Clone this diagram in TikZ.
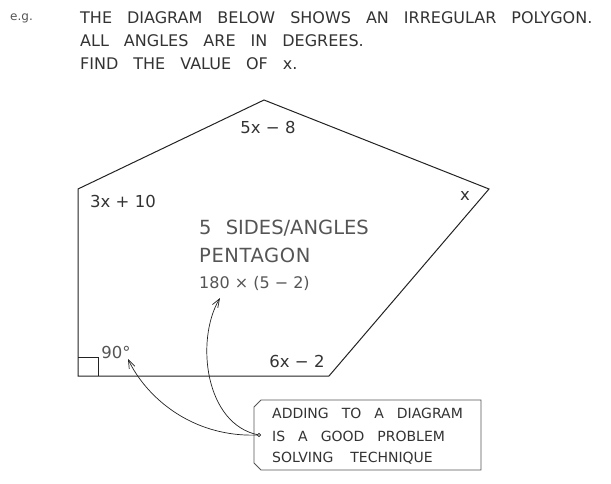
\documentclass[tikz,border=0pt]{standalone}
\usepackage{fontspec}
\setmainfont{DejaVu Sans}
\usetikzlibrary{arrows.meta}
\definecolor{ink}{HTML}{222222}
\definecolor{txt}{HTML}{333333}
\definecolor{soft}{HTML}{555555}
\newcommand\wgap{\hspace{15pt}}
\newcommand\bgap{\hspace{13pt}}
\begin{document}
\begin{tikzpicture}[x=1pt,y=-1pt,
  hdr/.style={anchor=west,inner sep=0pt,text=txt,font=\fontsize{16}{18}\selectfont},
  lbl/.style={inner sep=0pt,text=txt,font=\fontsize{16.5}{18}\selectfont},
  big/.style={anchor=west,inner sep=0pt,text=soft,font=\fontsize{19.5}{22}\selectfont},
  boxtxt/.style={anchor=west,inner sep=0pt,text=txt,font=\fontsize{14}{16}\selectfont},
  edge/.style={draw=ink,line width=1pt},
  conn/.style={draw=ink,line width=0.7pt,-{Straight Barb[length=3mm,width=2.2mm]}}]
\useasboundingbox (0,0) rectangle (611,484);
% header
\node[hdr,text=soft,font=\fontsize{12}{14}\selectfont] (eg) at (10,18) {e.g.};
\node[hdr] (h1) at (80,18) {THE\wgap DIAGRAM\wgap BELOW\wgap SHOWS\wgap AN\wgap IRREGULAR\wgap POLYGON.};
\node[hdr] (h2) at (80,41) {ALL\wgap ANGLES\wgap ARE\wgap IN\wgap DEGREES.};
\node[hdr] (h3) at (80,64) {FIND\wgap THE\wgap VALUE\wgap OF\wgap x.};
% polygon
\coordinate (A) at (264,100);
\coordinate (B) at (489,189);
\coordinate (C) at (329,376);
\coordinate (D) at (78,376);
\coordinate (E) at (78,189);
\draw[edge,line join=miter] (A) -- (B) -- (C) -- (D) -- (E) -- cycle;
\draw[edge,line width=0.9pt] (78,357) -- (98,357) -- (98,376);
% angle labels
\node[lbl] (a1) at (268,127) {5x − 8};
\node[lbl] (a2) at (123,201) {3x + 10};
\node[lbl] (a3) at (465,196) {x};
\node[lbl,text=soft] (a4) at (116,352) {90°};
\node[lbl] (a5) at (297,361) {6x − 2};
% inner text
\node[big] (t1) at (199,228) {5\hspace{8pt} SIDES/ANGLES};
\node[big,font=\fontsize{19.5}{22}\selectfont\addfontfeatures{LetterSpace=3}] (t2) at (199,255) {PENTAGON};
\node[big,font=\fontsize{16}{18}\selectfont] (t3) at (199,283) {180 × (5 − 2)};
% note box
\draw[draw=soft,line width=0.9pt,fill=white] (254,407) -- (261,400) -- (481,400) -- (481,470) -- (261,470) -- (254,463) -- cycle;
\node[boxtxt] (b1) at (272,413) {ADDING\bgap TO\bgap A\bgap DIAGRAM};
\node[boxtxt] (b2) at (272,436) {IS\bgap A\bgap GOOD\bgap PROBLEM};
\node[boxtxt] (b3) at (272,458) {SOLVING\bgap\hspace{4pt}TECHNIQUE};
\coordinate (dot) at (259,435);
\coordinate (tipA) at (128,359);
\coordinate (tipB) at (220,298);
\draw[conn] (dot) .. controls (190,438) and (145,395) .. (tipA);
\draw[conn] (dot) .. controls (205,425) and (195,340) .. (tipB);
\draw[draw=ink,fill=white,line width=0.6pt] (dot) circle (1.6);
\end{tikzpicture}
\end{document}
